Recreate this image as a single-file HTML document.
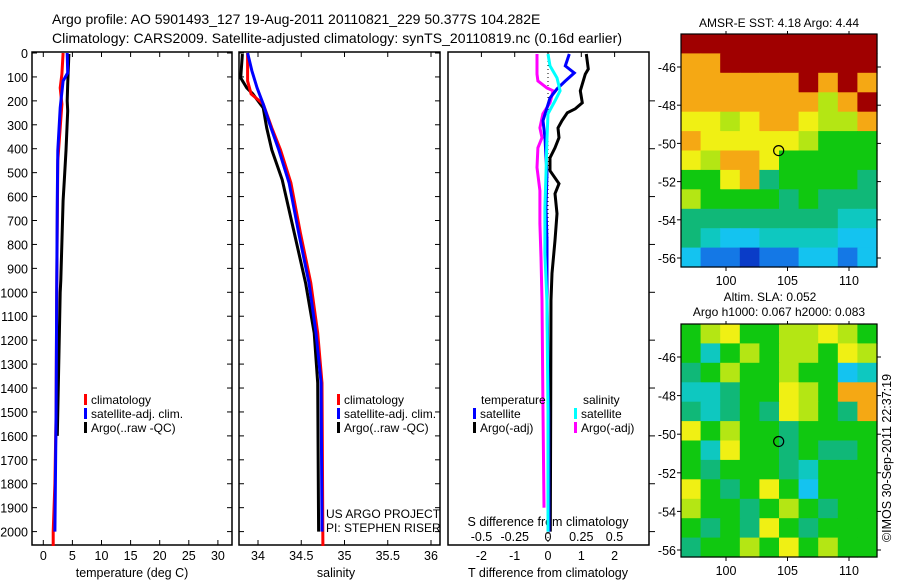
<!DOCTYPE html>
<html><head><meta charset="utf-8"><style>
html,body{margin:0;padding:0;background:#fff;}
svg{display:block;font-family:"Liberation Sans",sans-serif;}
text{fill:#000;}
</style></head><body>
<svg id="c" width="900" height="580" viewBox="0 0 900 580">
<text x="52" y="24" font-size="14">Argo profile: AO 5901493_127 19-Aug-2011 20110821_229 50.377S 104.282E</text>
<text x="52" y="43" font-size="14" textLength="570">Climatology: CARS2009. Satellite-adjusted climatology: synTS_20110819.nc (0.16d earlier)</text>
<g id="g"></g>
</svg>
<script>
// ---- data ----
const tDepth_clim=[0,88,146,214,450,1000,1500,1800,2000,2060];
const tClim=[3.4,3.2,2.9,3.2,2.5,2.3,2.2,2.0,1.7,1.7];
const tDepth_sat=[0,83,117,229,408,604,1000,1500,2000];
const tSat=[4.1,4.2,3.4,2.9,2.5,2.4,2.3,2.2,2.0];
const tDepth_argo=[4,129,200,242,408,533,617,950,1000,1600];
const tArgo=[4.4,4.2,4.1,4.2,3.9,3.6,3.4,3.0,2.9,2.4];

const sDepth_clim=[0,117,171,213,313,405,543,752,961,1170,1379,2060];
const sClim=[33.88,33.88,33.92,34.06,34.16,34.26,34.38,34.49,34.61,34.69,34.74,34.75];
const sDepth_sat=[0,75,146,213,313,405,543,752,961,1170,1379,2000];
const sSat=[33.88,33.93,33.99,34.06,34.15,34.24,34.36,34.47,34.59,34.67,34.73,34.74];
const sDepth_argo=[4,104,146,171,229,313,405,530,752,961,1170,1379,2000];
const sArgo=[33.82,33.80,33.87,33.94,34.06,34.10,34.16,34.28,34.42,34.55,34.65,34.69,34.70];

const dtDepth_argo=[4,67,88,158,208,233,250,283,313,354,396,438,492,546,588,671,783,921,1033,1500,2000];
const dtArgo=[1.15,1.21,1.12,0.97,1.03,0.82,0.58,0.42,0.30,0.33,0.21,0.06,0.06,0.33,0.21,0.27,0.21,0.12,0.09,0.08,0.07];
const dtDepth_sat=[4,54,83,117,150,188,229,283,354,438,504,646,783,1033,1500,2000];
const dtSat=[0.64,0.52,0.79,0.52,0.27,0.06,-0.03,-0.15,-0.09,-0.06,-0.03,-0.06,-0.03,-0.03,0.02,0.03];
const dsDepth_sat=[4,54,104,158,200,254,367,504,646,838,1033,1500,2000];
const dsSat=[0,0.015,0.068,0.091,0.053,0,-0.008,-0.015,-0.023,-0.023,-0.008,0,0];
const dsDepth_argo=[4,88,117,146,158,208,254,313,354,396,479,575,713,854,1033,1450,1900];
const dsArgo=[-0.083,-0.083,-0.076,-0.008,0.038,0.015,-0.038,-0.061,-0.045,-0.076,-0.083,-0.061,-0.061,-0.053,-0.045,-0.038,-0.03];

const depthTicks=[0,100,200,300,400,500,600,700,800,900,1000,1100,1200,1300,1400,1500,1600,1700,1800,1900,2000];
const tTicks=[0,5,10,15,20,25,30];
const sTicks=[34,34.5,35,35.5,36];
const sTickLabels=["34","34.5","35","35.5","36"];
const dtTicks=[-2,-1,0,1,2];
const dsTicks=[-0.5,-0.25,0,0.25,0.5];
const dsTickLabels=["-0.5","-0.25","0","0.25","0.5"];
const latTicks=[-46,-48,-50,-52,-54,-56];
const lonTicks=[100,105,110];

const sstGrid=["9999999999","8899999999","8888889898","8888888689","7767887668","8777776555","7688755555","5578455554","6555545444","4444444433","4322333322","2110112212"];
const slaGrid=["5675566765","5356566576","4565565523","3345576588","4345476548","7565545555","5375545445","5455543555","7545752555","6554565455","5454754555","4556575655"];
const palette=["#0a3cc8","#1478e6","#14c3f0","#0ec8c0","#10b878","#10c810","#b4e614","#f0f014","#f5a814","#a00000"];

// ---- helpers ----
const NS="http://www.w3.org/2000/svg";
const G=document.getElementById('g');
function mk(tag,attrs,parent){const e=document.createElementNS(NS,tag);for(const k in attrs)e.setAttribute(k,attrs[k]);(parent||G).appendChild(e);return e;}
const yD=d=>53+d*0.2393;
const xT=t=>43.3+t*5.82;
const xS=s=>258+(s-34)*86.5;
const xDT=t=>548+t*33.3;
const xDS=s=>548+s*133;

function frame(x0,x1,name){
  const r=mk('rect',{x:x0,y:52,width:x1-x0,height:493,fill:'none',stroke:'#000','stroke-width':1.5});
  
  
}
function line(xs,ds,xf,color,name,w){
  const pts=xs.map((v,i)=>xf(v).toFixed(1)+','+yD(ds[i]).toFixed(1)).join(' ');
  const p=mk('polyline',{points:pts,fill:'none',stroke:color,'stroke-width':w||3,'stroke-linejoin':'miter'});
  
  
}
function txt(x,y,s,size,anchor,name){
  const t=mk('text',{x:x,y:y,'font-size':size,'text-anchor':anchor||'start'});t.textContent=s;
  
  
  return t;
}

// ---- panels ----
frame(32,232,'temperature-panel');frame(239,440,'salinity-panel');frame(448,649,'difference-panel');
depthTicks.forEach(d=>{
  const y=yD(d);
  txt(28,y+5,String(d),12.5,'end','depth-tick-label');
  mk('line',{x1:32,y1:y,x2:37,y2:y,stroke:'#000'});
  mk('line',{x1:227,y1:y,x2:232,y2:y,stroke:'#000'});
  mk('line',{x1:239,y1:y,x2:244,y2:y,stroke:'#000'});
  mk('line',{x1:435,y1:y,x2:440,y2:y,stroke:'#000'});
  if(d%200===0&&d>0) mk('line',{x1:649,y1:y,x2:655,y2:y,stroke:'#000'});
});
tTicks.forEach(t=>{const x=xT(t);mk('line',{x1:x,y1:52,x2:x,y2:57,stroke:'#000'});mk('line',{x1:x,y1:540,x2:x,y2:545,stroke:'#000'});txt(x,560,String(t),12.5,'middle','temperature-tick-label');});
sTicks.forEach((s,i)=>{const x=xS(s);mk('line',{x1:x,y1:52,x2:x,y2:57,stroke:'#000'});mk('line',{x1:x,y1:540,x2:x,y2:545,stroke:'#000'});txt(x,560,sTickLabels[i],12.5,'middle','salinity-tick-label');});
dtTicks.forEach(t=>{const x=xDT(t);mk('line',{x1:x,y1:52,x2:x,y2:57,stroke:'#000'});txt(x,560,String(t),12.5,'middle','t-diff-tick-label');});
dsTicks.forEach((s,i)=>{txt(xDS(s),541,dsTickLabels[i],12.5,'middle','s-diff-tick-label');});
txt(132,577,'temperature (deg C)',12.5,'middle','temperature-axis-title');
txt(336,577,'salinity',12.5,'middle','salinity-axis-title');
txt(548,577,'T difference from climatology',12.5,'middle','t-diff-axis-title');
txt(548,526,'S difference from climatology',12.5,'middle','s-diff-axis-title');
mk('line',{x1:548,y1:53,x2:548,y2:544,stroke:'#000','stroke-dasharray':'1,3'});

line(tClim,tDepth_clim,xT,'#ff0000','temp-climatology-line');
line(tArgo,tDepth_argo,xT,'#000','temp-argo-line');
line(tSat,tDepth_sat,xT,'#0000ff','temp-satellite-line');
line(sArgo,sDepth_argo,xS,'#000','salinity-argo-line');
line(sClim,sDepth_clim,xS,'#ff0000','salinity-climatology-line');
line(sSat,sDepth_sat,xS,'#0000ff','salinity-satellite-line');
line(dtArgo,dtDepth_argo,xDT,'#000','t-diff-argo-line');
line(dsArgo,dsDepth_argo,xDS,'#ff00ff','s-diff-argo-line');
line(dtSat,dtDepth_sat,xDT,'#0000ff','t-diff-satellite-line');
line(dsSat,dsDepth_sat,xDS,'#00ffff','s-diff-satellite-line');

function legend(x,y,items,nm){items.forEach((it,i)=>{mk('rect',{x:x,y:y+i*14-10,width:3,height:11,fill:it[0]});txt(x+7,y+i*14,it[1],12,'start',nm);});}
legend(84,404,[['#ff0000','climatology'],['#0000ff','satellite-adj. clim.'],['#000','Argo(..raw -QC)']],'temp-legend-entry');
legend(337,404,[['#ff0000','climatology'],['#0000ff','satellite-adj. clim.'],['#000','Argo(..raw -QC)']],'salinity-legend-entry');
txt(481,404,'temperature',12,'start','legend-temperature-header');
txt(583,404,'salinity',12,'start','legend-salinity-header');
legend(473,418,[['#0000ff','satellite'],['#000','Argo(-adj)']],'diff-legend-entry');
legend(574,418,[['#00ffff','satellite'],['#ff00ff','Argo(-adj)']],'diff-legend-entry');
txt(326,518,'US ARGO PROJECT',12,'start','project-label');
txt(326,532,'PI: STEPHEN RISER',12,'start','pi-label');

// ---- maps ----
function map(top,bot,grid,latY0,latK,name){
  const x0=681,x1=877,rows=grid.length,cols=grid[0].length,cw=(x1-x0)/cols,ch=(bot-top)/rows;
  grid.forEach((row,r)=>{for(let c=0;c<cols;c++){
    const cell=mk('rect',{x:(x0+c*cw).toFixed(1),y:(top+r*ch).toFixed(1),width:(cw+0.6).toFixed(1),height:(ch+0.6).toFixed(1),fill:palette[+row[c]]});
    
    
  }});
  const f=mk('rect',{x:x0,y:top,width:x1-x0,height:bot-top,fill:'none',stroke:'#000','stroke-width':1.2});
  
  
  const lx=l=>726+(l-100)*12.3, ly=l=>latY0+(-46-l)*latK;
  latTicks.forEach(l=>{const y=ly(l);mk('line',{x1:x0,y1:y,x2:x0-4,y2:y,stroke:'#000'});mk('line',{x1:x1,y1:y,x2:x1+4,y2:y,stroke:'#000'});txt(x0-5,y+5,String(l),12.5,'end','latitude-tick-label');});
  lonTicks.forEach(l=>{const x=lx(l);mk('line',{x1:x,y1:bot,x2:x,y2:bot+4,stroke:'#000'});mk('line',{x1:x,y1:top,x2:x,y2:top-3,stroke:'#000'});txt(x,bot+18,String(l),12.5,'middle','longitude-tick-label');});
  const cc=mk('circle',{cx:lx(104.282),cy:ly(-50.377),r:5,fill:'none',stroke:'#000','stroke-width':1.2});
  
  
}
txt(779,27,'AMSR-E SST: 4.18 Argo: 4.44',12,'middle','sst-map-title');
map(34,267,sstGrid,67,19.1,'sst-map');
txt(770,301,'Altim. SLA: 0.052',12,'middle','sla-map-title');
txt(779,316,'Argo h1000: 0.067 h2000: 0.083',12,'middle','sla-subtitle');
map(324,557,slaGrid,357,19.3,'sla-map');
const cr=txt(0,0,'©IMOS 30-Sep-2011 22:37:19',12.5,'middle','imos-credit');
cr.setAttribute('transform','translate(891,458) rotate(-90)');
</script>
</body></html>
